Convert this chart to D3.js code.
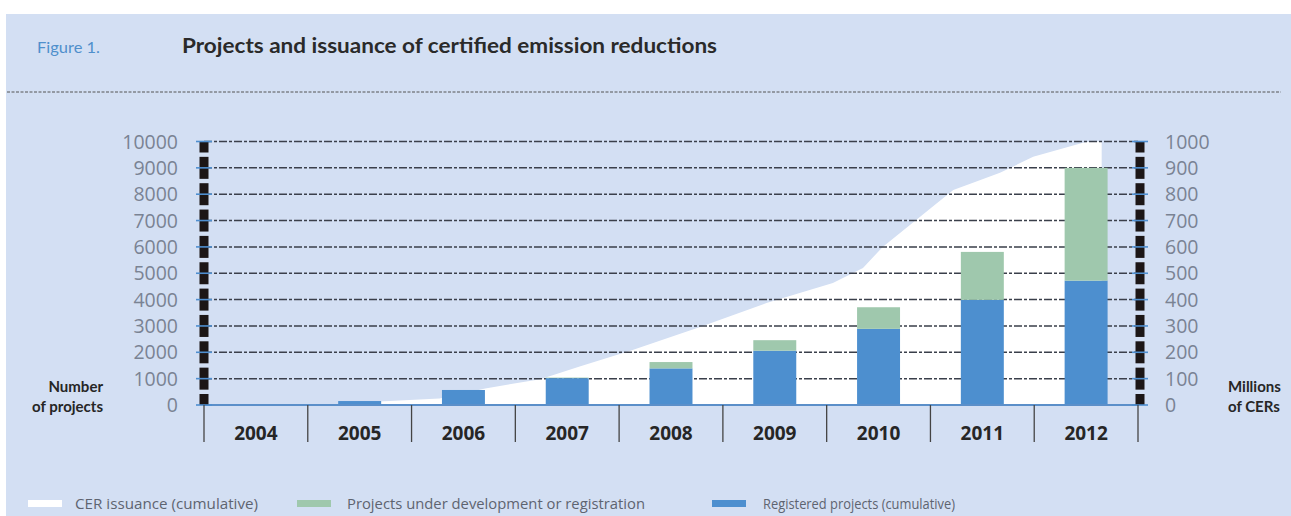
<!DOCTYPE html>
<html>
<head>
<meta charset="utf-8">
<script src="https://cdn.jsdelivr.net/npm/d3@7"></script>
<style>
  html, body { margin: 0; padding: 0; background: #ffffff; }
  svg { display: block; }
</style>
</head>
<body>
<svg id="chart" width="1291" height="516"></svg>
<script>
// ---------- DATA ----------
const years = ["2004", "2005", "2006", "2007", "2008", "2009", "2010", "2011", "2012"];
const registeredProjects = [0, 150, 570, 1020, 1390, 2060, 2890, 3990, 4720];
const projectsInDevelopment = [0, 0, 0, 20, 240, 400, 820, 1820, 4280];
const cerTime = [2005.5, 2005.69, 2006.27, 2006.71, 2007.24, 2007.62, 2008.13, 2008.78, 2009.42, 2010.06, 2010.35, 2010.54, 2011.02, 2011.22, 2011.41, 2011.67, 2011.99, 2012.47, 2012.54, 2012.65];
const cerIssuance = [0, 13, 25, 63, 98, 146, 209, 296, 387, 463, 520, 600, 752, 816, 843, 881, 942, 995, 1000, 1000];
const leftTicks = [0, 1000, 2000, 3000, 4000, 5000, 6000, 7000, 8000, 9000, 10000];
const rightTicks = [0, 100, 200, 300, 400, 500, 600, 700, 800, 900, 1000];
const legendLabels = ["CER issuance (cumulative)", "Projects under development or registration", "Registered projects (cumulative)"];

// ---------- SETUP ----------
const svg = d3.select("#chart");
const W = 1291, H = 516;
const bg = "#d3dff3";
const blue = "#4d8fcf", green = "#9fc8ad";
const x0 = 204, x1 = 1138, yBase = 405, yTop = 141.5;

svg.append("rect").attr("x", 6).attr("y", 14).attr("width", W - 6).attr("height", H - 14).attr("fill", bg);

// Header
svg.append("text").attr("x", 37).attr("y", 53).text("Figure 1.")
  .attr("font-family", "Lato, 'Open Sans', sans-serif").attr("font-size", 15.5).attr("fill", "#4f8fcc")
  .attr("textLength", 63).attr("lengthAdjust", "spacingAndGlyphs");
svg.append("text").attr("x", 182).attr("y", 53).text("Projects and issuance of certified emission reductions")
  .attr("font-family", "Lato, 'Open Sans', sans-serif").attr("font-weight", 700).attr("font-size", 20.5).attr("fill", "#2a2a2a")
  .attr("textLength", 535).attr("lengthAdjust", "spacingAndGlyphs");
svg.append("line").attr("x1", 7).attr("x2", 1281).attr("y1", 92).attr("y2", 92)
  .attr("stroke", "#555").attr("stroke-width", 1).attr("stroke-dasharray", "3,1.5");

// Scales
const xTime = d3.scaleLinear().domain([2004, 2013]).range([x0, x1]);
const xBand = d3.scaleBand().domain(years).range([x0, x1]).paddingInner(0.586).paddingOuter(0.293);
const yLeft = d3.scaleLinear().domain([0, 10000]).range([yBase, yTop]);
const yRight = d3.scaleLinear().domain([0, 1000]).range([yBase, yTop]);

// CER area (white)
const area = d3.area().x((d, i) => xTime(cerTime[i])).y0(yBase).y1(d => yRight(d));
svg.append("path").datum(cerIssuance).attr("d", area).attr("fill", "#ffffff");

// Gridlines
svg.append("g").selectAll("line").data(leftTicks.filter(t => t > 0)).join("line")
  .attr("x1", x0).attr("x2", x1).attr("y1", d => yLeft(d)).attr("y2", d => yLeft(d))
  .attr("stroke", "#3a3f4a").attr("stroke-width", 1.5).attr("stroke-dasharray", "8,2,3,2");

// Bars
const barG = svg.append("g");
barG.selectAll("rect.reg").data(years).join("rect").attr("class", "reg")
  .attr("x", d => xBand(d)).attr("width", xBand.bandwidth())
  .attr("y", (d, i) => yLeft(registeredProjects[i]))
  .attr("height", (d, i) => yBase - yLeft(registeredProjects[i]))
  .attr("fill", blue);
barG.selectAll("rect.dev").data(years).join("rect").attr("class", "dev")
  .attr("x", d => xBand(d)).attr("width", xBand.bandwidth())
  .attr("y", (d, i) => yLeft(registeredProjects[i] + projectsInDevelopment[i]))
  .attr("height", (d, i) => yLeft(registeredProjects[i]) - yLeft(registeredProjects[i] + projectsInDevelopment[i]))
  .attr("fill", green);

// Baseline
svg.append("line").attr("x1", x0).attr("x2", x1).attr("y1", yBase).attr("y2", yBase)
  .attr("stroke", "#5b8fc9").attr("stroke-width", 2);

// Vertical axes (black segmented bars + blue ticks)
function drawVAxis(xc, scale, ticks) {
  const g = svg.append("g");
  g.selectAll("rect").data(ticks).join("rect")
    .attr("x", xc - 4.5).attr("width", 9)
    .attr("y", d => Math.max(yTop, scale(d) - 11))
    .attr("height", d => Math.min(yBase, scale(d) + 11) - Math.max(yTop, scale(d) - 11))
    .attr("fill", "#1c1616");
  g.selectAll("line").data(ticks).join("line")
    .attr("x1", xc - 8).attr("x2", xc + 8).attr("y1", d => scale(d)).attr("y2", d => scale(d))
    .attr("stroke", "#4f8fd0").attr("stroke-width", 1.6);
}
drawVAxis(x0, yLeft, leftTicks);
drawVAxis(x1 + 2, yRight, rightTicks);

// Tick labels
const tickFont = "'Open Sans', Lato, sans-serif";
svg.append("g").selectAll("text").data(leftTicks).join("text")
  .attr("x", 178).attr("y", d => yLeft(d) + 7).attr("text-anchor", "end")
  .attr("font-family", tickFont).attr("font-size", 19.5).attr("fill", "#7a8393")
  .text(d => d);
svg.append("g").selectAll("text").data(rightTicks).join("text")
  .attr("x", 1165).attr("y", d => yRight(d) + 7).attr("text-anchor", "start")
  .attr("font-family", tickFont).attr("font-size", 19.5).attr("fill", "#7a8393")
  .text(d => d);

// X axis band separators and labels
const boundaries = d3.range(2004, 2014);
svg.append("g").selectAll("line").data(boundaries).join("line")
  .attr("x1", d => xTime(d)).attr("x2", d => xTime(d)).attr("y1", yBase).attr("y2", 442)
  .attr("stroke", "#444").attr("stroke-width", 1.3);
svg.append("g").selectAll("text").data(years).join("text")
  .attr("x", d => xBand(d) + xBand.bandwidth() / 2).attr("y", 440).attr("text-anchor", "middle")
  .attr("font-family", tickFont).attr("font-weight", 700).attr("font-size", 19).attr("fill", "#262626")
  .text(d => d);

// Axis titles
const titleFont = "Lato, 'Open Sans', sans-serif";
svg.append("text").attr("x", 103).attr("y", 392).attr("text-anchor", "end").text("Number")
  .attr("font-family", titleFont).attr("font-weight", 700).attr("font-size", 15).attr("fill", "#262626");
svg.append("text").attr("x", 103).attr("y", 412).attr("text-anchor", "end").text("of projects")
  .attr("font-family", titleFont).attr("font-weight", 700).attr("font-size", 15).attr("fill", "#262626");
svg.append("text").attr("x", 1228).attr("y", 392).attr("text-anchor", "start").text("Millions")
  .attr("font-family", titleFont).attr("font-weight", 700).attr("font-size", 15).attr("fill", "#262626");
svg.append("text").attr("x", 1228).attr("y", 412).attr("text-anchor", "start").text("of CERs")
  .attr("font-family", titleFont).attr("font-weight", 700).attr("font-size", 15).attr("fill", "#262626");

// Legend
const legendColors = ["#ffffff", green, blue];
const legendSwatchX = [28, 297, 712];
const legendTextX = [75, 347, 763];
const legendTextW = [183, 298, 192];
const lg = svg.append("g");
lg.selectAll("rect").data(legendLabels).join("rect")
  .attr("x", (d, i) => legendSwatchX[i]).attr("y", 500).attr("width", 34).attr("height", 7)
  .attr("fill", (d, i) => legendColors[i]);
lg.selectAll("text").data(legendLabels).join("text")
  .attr("x", (d, i) => legendTextX[i]).attr("y", 509)
  .attr("font-family", "'Open Sans', sans-serif").attr("font-size", 14).attr("fill", "#5e6470")
  .attr("textLength", (d, i) => legendTextW[i]).attr("lengthAdjust", "spacingAndGlyphs")
  .text(d => d);
</script>
</body>
</html>
